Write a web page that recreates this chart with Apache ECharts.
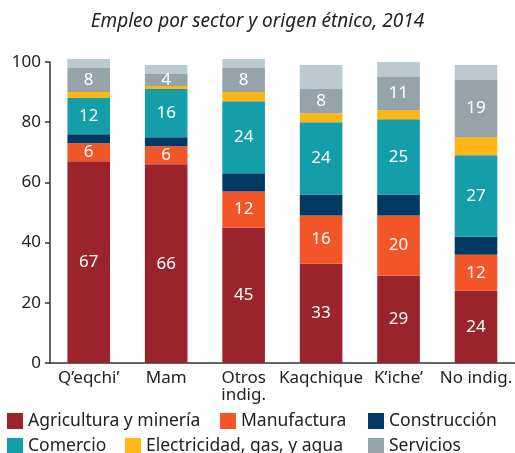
<!DOCTYPE html>
<html>
<head>
<meta charset="utf-8">
<script src="https://cdn.jsdelivr.net/npm/echarts@6/dist/echarts.min.js"></script>
<style>
  html, body { margin: 0; padding: 0; background: #fff; }
  #chart { width: 515px; height: 453px; }
</style>
</head>
<body>
<div id="chart"></div>
<script>
// categories and values (percent of employment)
const categories = ['Q\u2019eqchi\u2019', 'Mam', 'Otros\nindig.', 'Kaqchique', 'K\u2019iche\u2019', 'No indig.'];
const agricultura = [67, 66, 45, 33, 29, 24];
const manufactura = [6, 6, 12, 16, 20, 12];
const construccion = [3, 3, 6, 7, 7, 6];
const comercio = [12, 16, 24, 24, 25, 27];
const electricidad = [2, 1, 3, 3, 3, 6];
const servicios = [8, 4, 8, 8, 11, 19];
const otros = [3, 3, 3, 8, 5, 5];
const yTicks = [0, 20, 40, 60, 80, 100];

const FONT = 'Noto Sans';
const chart = echarts.init(document.getElementById('chart'));

function makeSeries(name, data, color, showLabel) {
  return {
    name: name,
    type: 'bar',
    stack: 'total',
    data: data,
    barWidth: '55%',
    clip: false,
    itemStyle: { color: color },
    label: {
      show: showLabel,
      position: 'inside',
      color: '#fff',
      fontFamily: FONT,
      fontSize: 17
    },
    emphasis: { disabled: true }
  };
}

const legendItems = [
  { name: 'Agricultura y minería', left: 7, top: 412 },
  { name: 'Manufactura', left: 220, top: 412 },
  { name: 'Construcción', left: 368, top: 412 },
  { name: 'Comercio', left: 7, top: 437 },
  { name: 'Electricidad, gas, y agua', left: 125, top: 437 },
  { name: 'Servicios', left: 368, top: 437 }
];

chart.setOption({
  animation: false,
  title: {
    text: 'Empleo por sector y origen étnico, 2014',
    left: 'center',
    top: 7,
    textStyle: { fontFamily: FONT, fontStyle: 'italic', fontWeight: 'normal', fontSize: 19, color: '#222' }
  },
  legend: legendItems.map(it => ({
    data: [it.name],
    left: it.left,
    top: it.top,
    padding: 0,
    itemWidth: 16,
    itemHeight: 16,
    icon: 'rect',
    selectedMode: false,
    textStyle: { fontFamily: FONT, fontSize: 17.5, color: '#222' }
  })),
  grid: { left: 50, top: 62, width: 467, height: 301 },
  xAxis: {
    type: 'category',
    data: categories,
    axisLine: { lineStyle: { color: '#333', width: 1.5 } },
    axisTick: { inside: true, length: 5, lineStyle: { color: '#333', width: 1.5 } },
    axisLabel: {
      interval: 0, hideOverlap: false,
      fontFamily: FONT, fontSize: 17, color: '#222', margin: 7, lineHeight: 17
    }
  },
  yAxis: {
    type: 'value',
    min: 0,
    max: 100,
    interval: 20,
    splitLine: { show: false },
    axisLine: { show: true, lineStyle: { color: '#333', width: 1.5 } },
    axisTick: { show: true, length: 5, lineStyle: { color: '#333', width: 1.5 } },
    axisLabel: {
      fontFamily: FONT, fontSize: 17, color: '#222', margin: 9,
      formatter: v => (yTicks.includes(v) ? String(v) : '')
    }
  },
  series: [
    makeSeries('Agricultura y minería', agricultura, '#9B232C', true),
    makeSeries('Manufactura', manufactura, '#F15528', true),
    makeSeries('Construcción', construccion, '#013963', false),
    makeSeries('Comercio', comercio, '#139EA9', true),
    makeSeries('Electricidad, gas, y agua', electricidad, '#FDB614', false),
    makeSeries('Servicios', servicios, '#95A3AA', true),
    makeSeries('Otros', otros, '#BBC9D1', false)
  ]
});
</script>
</body>
</html>
